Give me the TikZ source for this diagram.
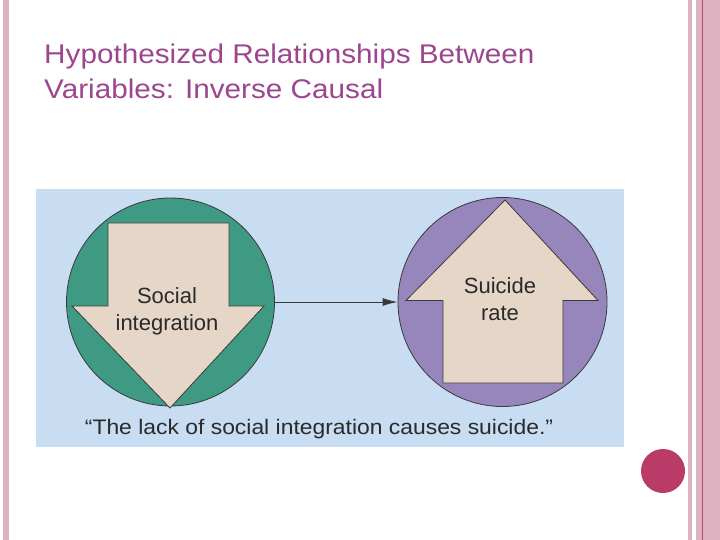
\documentclass[tikz,border=0pt]{standalone}
\usepackage{fontspec}
\setmainfont{Liberation Sans}
\usetikzlibrary{arrows.meta}
\definecolor{pinkb}{HTML}{DDB2C0}
\definecolor{pinkline}{HTML}{A84C72}
\definecolor{dotred}{HTML}{BA3B68}
\definecolor{titlec}{HTML}{9C468E}
\definecolor{panel}{HTML}{C8DDF1}
\definecolor{greenc}{HTML}{3F9A83}
\definecolor{purplec}{HTML}{9786BC}
\definecolor{beige}{HTML}{E5D6C7}
\definecolor{edge}{HTML}{3A3A3A}
\definecolor{txt}{HTML}{2A2A2A}
\tikzset{
  circ/.style={draw=edge, line width=0.8pt},
  arrowshape/.style={draw=edge, fill=beige, line width=0.8pt, line join=miter},
  lbl/.style={text=txt, font=\fontsize{22}{27}\selectfont, anchor=base, inner sep=0pt},
  quotetext/.style={text=txt, font=\fontsize{21}{25}\selectfont, anchor=base, inner sep=0pt, xscale=1.09, transform shape},
  titletext/.style={text=titlec, font=\fontsize{27}{35}\selectfont, anchor=base west, inner sep=0pt, xscale=1.1, transform shape}
}
\begin{document}
\begin{tikzpicture}[x=1pt,y=-1pt]
\useasboundingbox (0,0) rectangle (720,540);
\fill[white] (0,0) rectangle (720,540);
% borders
\fill[pinkb] (3,0) rectangle (9,540);
\fill[pinkb] (688,0) rectangle (692,540);
\fill[pinkb] (696,0) rectangle (720,540);
\draw[pinkline, line width=0.8pt] (702,0) -- (702,540);
\node[circle, fill=dotred, minimum size=44pt, inner sep=0pt] (dot) at (663,471) {};
% title
\node[titletext] (title1) at (44,64) {Hypothesized Relationships Between};
\node[titletext] (title2) at (44,99) {Variables: Inverse Causal};
% panel
\fill[panel] (36,189) rectangle (624,447);
% left circle
\node[circle, circ, fill=greenc, minimum size=208pt, inner sep=0pt] (lc) at (170.5,302) {};
\draw[arrowshape] (108,223) -- (229,223) -- (229,306) -- (264,306) -- (170,408) -- (72,306) -- (108,306) -- cycle;
\node[lbl] (social1) at (167,303) {Social};
\node[lbl] (social2) at (167,330) {integration};
% right circle
\node[circle, circ, fill=purplec, minimum size=209pt, inner sep=0pt] (rc) at (502.5,302) {};
\draw[arrowshape] (505,200) -- (598,300.5) -- (563,300.5) -- (563,383) -- (443,383) -- (443,300.5) -- (406,300.5) -- cycle;
\node[lbl] (suicide1) at (500,293) {Suicide};
\node[lbl] (suicide2) at (500,320) {rate};
% connector
\draw[edge, line width=1pt, -{Latex[length=15pt,width=8pt]}] (lc.east) -- (rc.west);
% quote
\node[quotetext] (quote) at (319,434.5) {“The lack of social integration causes suicide.”};
\end{tikzpicture}
\end{document}
